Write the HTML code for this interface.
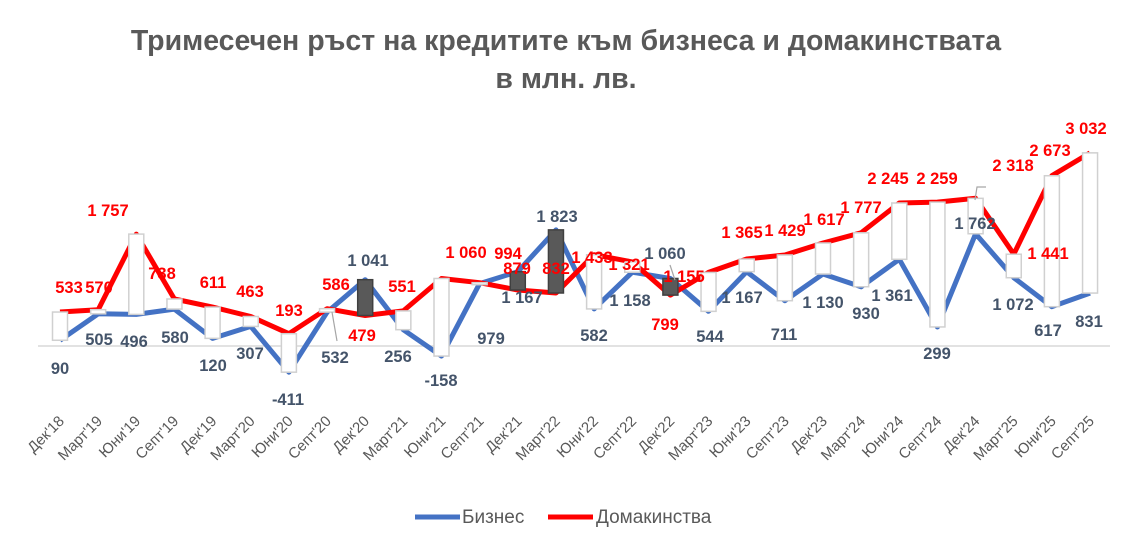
<!DOCTYPE html>
<html><head><meta charset="utf-8"><style>
html,body{margin:0;padding:0;background:#fff;}
svg{display:block;font-family:"Liberation Sans",sans-serif;}
</style></head><body>
<svg id="c" width="1131" height="549" viewBox="0 0 1131 549" xmlns="http://www.w3.org/2000/svg">
<text x="566" y="50" text-anchor="middle" font-size="28.5" font-weight="bold" fill="#595959">Тримесечен ръст на кредитите към бизнеса и домакинствата</text>
<text x="566" y="88" text-anchor="middle" font-size="28.5" font-weight="bold" fill="#595959">в млн. лв.</text>
<line x1="38" y1="346" x2="1110" y2="346" stroke="#d9d9d9" stroke-width="1.5"/>
<g id="g"></g>
<line x1="415" y1="517" x2="460" y2="517" stroke="#4472C4" stroke-width="5"/>
<text x="462" y="523" font-size="19" fill="#595959">Бизнес</text>
<line x1="548" y1="517" x2="593" y2="517" stroke="#FF0000" stroke-width="5"/>
<text x="596" y="523" font-size="19" fill="#595959">Домакинства</text>
</svg>
<script>
var cats=["Дек'18","Март'19","Юни'19","Септ'19","Дек'19","Март'20","Юни'20","Септ'20","Дек'20","Март'21","Юни'21","Септ'21","Дек'21","Март'22","Юни'22","Септ'22","Дек'22","Март'23","Юни'23","Септ'23","Дек'23","Март'24","Юни'24","Септ'24","Дек'24","Март'25","Юни'25","Септ'25"];
var B=[90,505,496,580,120,307,-411,532,1041,256,-158,979,1167,1823,582,1158,1060,544,1167,711,1130,930,1361,299,1762,1072,617,831];
var H=[533,570,1757,738,611,463,193,586,479,551,1060,994,879,832,1433,1321,799,1155,1365,1429,1617,1777,2245,2259,2318,1441,2673,3032];
var RL=[[69,287],[99,287],[108,210],[162,273],[213,282],[250,291],[289,310],[336,284],[362,335],[402,286],[466,252],[508,253],[517,268],[556,268],[592,257],[629,264],[665,324],[684,276],[742,232],[785,230],[824,219],[861,207],[888,178],[937,178],[1013,165],[1048,253],[1050,150],[1086,128]];
var BL=[[60,368],[99,339],[134,341],[175,337],[213,365],[250,353],[288,399],[335,357],[368,260],[398,356],[441,380],[491,338],[522,297],[557,216],[594,335],[630,300],[665,253],[710,336],[742,297],[784,334],[823,302],[866,313],[892,295],[937,353],[975,223],[1013,304],[1048,330],[1089,321]];
function X(i){return 60+i*38.15}function Y(v){return 346-v*0.0637}
var s='';
function pl(a){return a.map(function(v,i){return X(i).toFixed(1)+','+Y(v).toFixed(1)}).join(' ')}
s+='<polyline points="'+pl(B)+'" fill="none" stroke="#4472C4" stroke-width="5" stroke-linejoin="round"/>';
s+='<polyline points="'+pl(H)+'" fill="none" stroke="#FF0000" stroke-width="5" stroke-linejoin="round"/>';
for(var i=0;i<28;i++){var t=Math.min(Y(B[i]),Y(H[i])),b=Math.max(Y(B[i]),Y(H[i]));var up=H[i]>B[i];
s+='<rect x="'+(X(i)-7.5)+'" y="'+t+'" width="15" height="'+Math.max(b-t,2)+'" fill="'+(up?'#fff':'#595959')+'" stroke="'+(up?'#d0d0d0':'#404040')+'" stroke-width="1.5"/>';}
s+='<polyline points="332,312 337,341" stroke="#a6a6a6" fill="none" stroke-width="1.2"/>';
s+='<polyline points="975,200 977,187 986,187" stroke="#a6a6a6" fill="none" stroke-width="1.2"/>';
s+='<polyline points="670,265 675,280" stroke="#a6a6a6" fill="none" stroke-width="1.2"/>';
function f(v){var a=Math.abs(v),t=a>=1000?Math.floor(a/1000)+' '+String(a%1000).padStart(3,'0'):String(a);return (v<0?'-':'')+t}
for(i=0;i<28;i++){
s+='<text x="'+RL[i][0]+'" y="'+(RL[i][1]+6)+'" text-anchor="middle" font-size="16.5" font-weight="bold" fill="#FF0000">'+f(H[i])+'</text>';
s+='<text x="'+BL[i][0]+'" y="'+(BL[i][1]+6)+'" text-anchor="middle" font-size="16.5" font-weight="bold" fill="#44546A">'+f(B[i])+'</text>';
var x=X(i)+5,y=422;
s+='<text x="'+x+'" y="'+y+'" text-anchor="end" font-size="15" fill="#595959" transform="rotate(-45 '+x+' '+y+')">'+cats[i]+'</text>';}
document.getElementById('g').innerHTML=s;
</script>
</body></html>
